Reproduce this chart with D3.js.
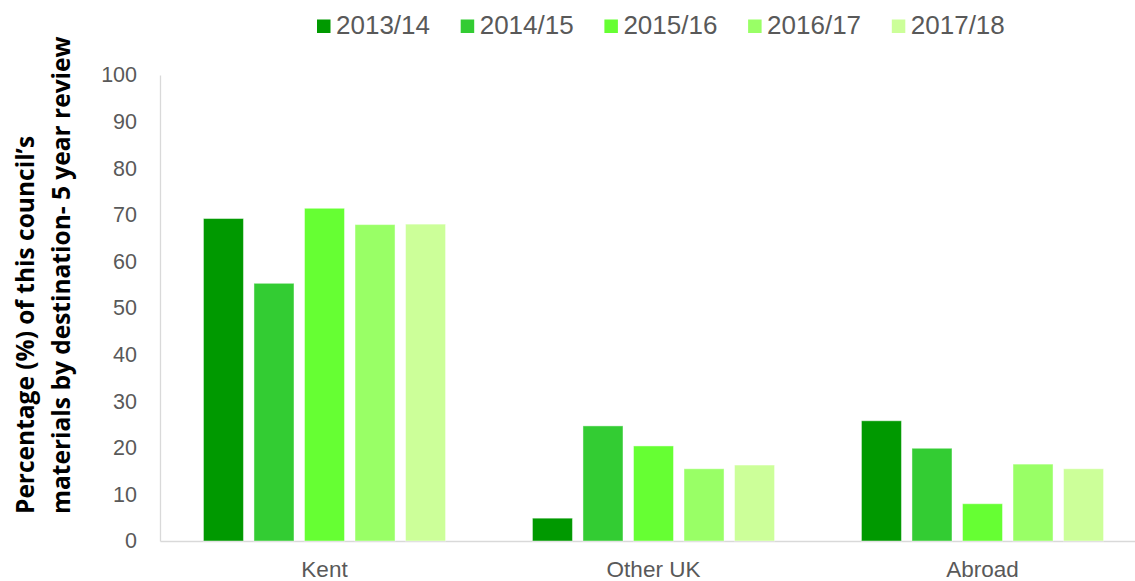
<!DOCTYPE html>
<html>
<head>
<meta charset="utf-8">
<script src="https://cdn.jsdelivr.net/npm/d3@7/dist/d3.min.js"></script>
<style>
  body { margin: 0; background: #fff; }
  text { font-family: "Liberation Sans", Arial, sans-serif; fill: #595959; }
</style>
</head>
<body>
<script>
// data
var destinations = ['Kent', 'Other UK', 'Abroad'];
var years = ['2013/14', '2014/15', '2015/16', '2016/17', '2017/18'];
var colours = ['#009900', '#33cc33', '#66ff33', '#99ff66', '#ccff99'];
var kent = [69.2, 55.3, 71.4, 67.9, 68.0];
var otherUK = [4.9, 24.7, 20.4, 15.5, 16.3];
var abroad = [25.8, 19.9, 8.0, 16.5, 15.5];
var yTicks = [0, 10, 20, 30, 40, 50, 60, 70, 80, 90, 100];

var seriesByDest = [kent, otherUK, abroad];

var width = 1135,
	height = 581,
	margin = { top: 75, right: -12, bottom: 40, left: 160 };

var svg = d3.select('body').append('svg')
	.attr('width', width)
	.attr('height', height);

var x0 = d3.scaleBand()
	.domain(destinations)
	.range([margin.left, width - margin.right]);

var x1 = d3.scaleBand()
	.domain(years)
	.range([0, x0.bandwidth()])
	.paddingInner(0.208)
	.paddingOuter(0.86);

var y = d3.scaleLinear()
	.domain([0, 100])
	.range([height - margin.bottom, margin.top]);

var colour = d3.scaleOrdinal().domain(years).range(colours);

// y axis
var yAxis = svg.append('g')
	.attr('transform', 'translate(' + margin.left + ',0)')
	.call(d3.axisLeft(y).tickValues(yTicks).tickSize(0).tickPadding(23));
yAxis.select('.domain').attr('stroke', '#d9d9d9').attr('stroke-width', 1.3);
yAxis.selectAll('text')
	.style('font-size', '21.5px')
	.style('font-family', '"Liberation Sans", Arial, sans-serif')
	.attr('fill', '#595959');

// x axis
var xAxis = svg.append('g')
	.attr('transform', 'translate(0,' + (height - margin.bottom) + ')')
	.call(d3.axisBottom(x0).tickSize(0).tickPadding(20).tickSizeOuter(0));
xAxis.select('.domain').attr('stroke', '#d9d9d9').attr('stroke-width', 1.3);
xAxis.selectAll('text')
	.style('font-size', '22.5px')
	.style('font-family', '"Liberation Sans", Arial, sans-serif')
	.attr('fill', '#595959');

// bars
var groups = svg.selectAll('.group')
	.data(destinations)
	.enter().append('g')
	.attr('class', 'group')
	.attr('transform', function(d) { return 'translate(' + x0(d) + ',0)'; });

groups.selectAll('.bar')
	.data(function(d, i) {
		return years.map(function(yr, j) { return { year: yr, value: seriesByDest[i][j] }; });
	})
	.enter().append('rect')
	.attr('class', 'bar')
	.attr('x', function(d) { return x1(d.year); })
	.attr('y', function(d) { return y(d.value); })
	.attr('width', x1.bandwidth())
	.attr('height', function(d) { return y(0) - y(d.value); })
	.attr('fill', function(d) { return colour(d.year); })
	.attr('stroke', '#ffffff')
	.attr('stroke-opacity', 0.45)
	.attr('stroke-width', 1);

// legend
var legend = svg.append('g')
	.attr('transform', 'translate(317,0)');

var item = legend.selectAll('.legend-item')
	.data(years)
	.enter().append('g')
	.attr('class', 'legend-item')
	.attr('transform', function(d, i) { return 'translate(' + (i * 143.7) + ',0)'; });

item.append('rect')
	.attr('x', 0)
	.attr('y', 19.5)
	.attr('width', 13.5)
	.attr('height', 13.5)
	.attr('fill', function(d) { return colour(d); });

item.append('text')
	.attr('x', 19)
	.attr('y', 34)
	.style('font-size', '26px')
	.text(function(d) { return d; });

// y axis title, two lines
var title = svg.append('text')
	.attr('transform', 'translate(0,514) rotate(-90)')
	.attr('text-anchor', 'start')
	.style('font-family', '"Open Sans", sans-serif')
	.style('font-weight', 'bold')
	.style('font-size', '24.5px')
	.style('fill', '#000');

title.append('tspan').attr('x', 0).attr('y', 34).text('Percentage (%) of this council\u2019s');
title.append('tspan').attr('x', 0).attr('y', 70).text('materials by destination- 5 year review');
</script>
</body>
</html>
